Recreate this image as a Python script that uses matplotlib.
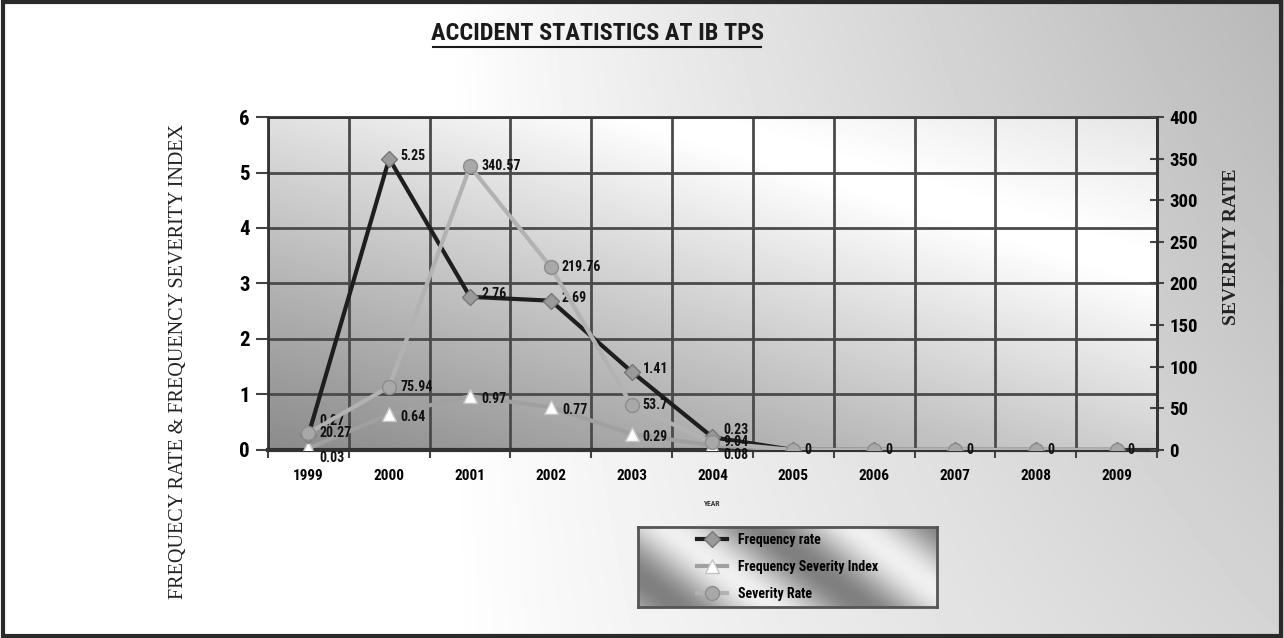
"""Accident statistics at IB TPS: frequency rate, frequency severity index and severity rate"""
import numpy as np
import matplotlib
matplotlib.use("Agg")
import matplotlib.pyplot as plt
from matplotlib.lines import Line2D
from matplotlib.patches import Rectangle

years = ["1999", "2000", "2001", "2002", "2003", "2004",
         "2005", "2006", "2007", "2008", "2009"]
frequency_rate = [0.27, 5.25, 2.76, 2.69, 1.41, 0.23, 0, 0, 0, 0, 0]
freq_severity_index = [0.03, 0.64, 0.97, 0.77, 0.29, 0.08, 0, 0, 0, 0, 0]
severity_rate = [20.27, 75.94, 340.57, 219.76, 53.70, 9.04, 0, 0, 0, 0, 0]

NARROW = ["Roboto Condensed", "DejaVu Sans"]
SERIF = ["Liberation Serif", "DejaVu Serif"]
narrow = dict(fontfamily=NARROW, fontstretch="condensed", fontweight="bold")

fig = plt.figure(figsize=(12.84, 6.38), dpi=100)

# background: white on the left fading to grey on the right
bg = fig.add_axes([0, 0, 1, 1], zorder=-10)
gx, gy = np.meshgrid(np.linspace(0, 1, 400), np.linspace(0, 1, 200))
shade = 1 - 0.28 * np.clip((gx - 0.35) / 0.65, 0, 1) ** 0.9 * (0.6 + 0.4 * (1 - gy))
bg.imshow(shade, cmap="gray", vmin=0, vmax=1, extent=[0, 1, 0, 1],
          aspect="auto", interpolation="bilinear")
bg.set_axis_off()
bg.add_patch(Rectangle((0.002, 0.003), 0.996, 0.994, transform=bg.transAxes,
                       fill=False, edgecolor="#2a2a2a", linewidth=3))

ax = fig.add_axes([0.2087, 0.2947, 0.6924, 0.5219])
x = np.arange(len(years))

# plot area gradient: dark lower-left corner, white towards the upper middle
px, py = np.meshgrid(np.linspace(0, 1, 300), np.linspace(0, 1, 150))
s = 0.5 * px + 0.6 * py
plot_shade = 0.55 + 0.45 * np.clip(s / 0.8, 0, 1) ** 1.1 - 0.4 * np.clip(s - 0.85, 0, None)
ax.imshow(plot_shade, cmap="gray", vmin=0, vmax=1,
          extent=[-0.5, len(years) - 0.5, 0, 6], origin="lower",
          aspect="auto", interpolation="bilinear", zorder=0)

ax.set_xlim(-0.5, len(years) - 0.5)
ax.set_ylim(0, 6)
ax.set_yticks(range(0, 7))
ax.set_xticks(x)
ax.set_xticks(np.arange(-0.5, len(years)), minor=True)
ax.set_xticklabels(years, fontsize=11, **narrow)
ax.set_yticklabels([str(v) for v in range(0, 7)], fontsize=15, **narrow)
ax.tick_params(axis="x", which="major", length=0, pad=14)
ax.tick_params(axis="x", which="minor", length=6, width=1.5, color="#444")
ax.tick_params(axis="y", length=9, width=1.5, color="#444", pad=4)
ax.grid(True, axis="y", color="#4a4a4a", linewidth=2, zorder=1)
ax.grid(True, axis="x", which="minor", color="#4a4a4a", linewidth=2, zorder=1)
ax.set_axisbelow(True)
for sp in ax.spines.values():
    sp.set_color("#333")
    sp.set_linewidth(2)
ax.spines["bottom"].set_linewidth(3)

ax2 = ax.twinx()
ax2.set_ylim(0, 400)
ax2.set_yticks(range(0, 401, 50))
ax2.set_yticklabels([str(v) for v in range(0, 401, 50)], fontsize=13.5, **narrow)
ax2.tick_params(axis="y", direction="inout", length=10, width=1.5,
                color="#444", pad=4)
ax2.patch.set_visible(False)
for sp in ax2.spines.values():
    sp.set_visible(False)
ax2.spines["right"].set_visible(True)
ax2.spines["right"].set_color("#333")
ax2.spines["right"].set_linewidth(2)

fr_line, = ax.plot(x, frequency_rate, color="#1e1e1e", linewidth=3,
                   marker="D", markersize=8, markerfacecolor="#9a9a9a",
                   markeredgecolor="#777", zorder=4)
fsi_line, = ax.plot(x, freq_severity_index, color="#a0a0a0", linewidth=3,
                    marker="^", markersize=10, markerfacecolor="white",
                    markeredgecolor="#c4c4c4", zorder=3)
sr_line, = ax2.plot(x, severity_rate, color="#b2b2b2", linewidth=3,
                    marker="o", markersize=10, markerfacecolor="#a8a8a8",
                    markeredgecolor="#8c8c8c", zorder=3)

# data labels to the right of each point; the zero labels of the two
# left-axis series sit under the severity "0" so only that one is drawn
label_style = dict(fontsize=10, color="#111", va="center", ha="left", **narrow)
fr_dy = [10, 2, 2, 2, 2, 5, 0, 0, 0, 0, 0]
fsi_dy = [-7, -2, -2, -2, -2, -7, 0, 0, 0, 0, 0]
for i, v in enumerate(frequency_rate):
    if v:
        ax.annotate(f"{v:g}", (x[i], v), xytext=(8, fr_dy[i]),
                    textcoords="offset points", zorder=6, **label_style)
for i, v in enumerate(freq_severity_index):
    if v:
        ax.annotate(f"{v:g}", (x[i], v), xytext=(8, fsi_dy[i]),
                    textcoords="offset points", zorder=6, **label_style)
for i, v in enumerate(severity_rate):
    ax2.annotate(f"{v:g}", (x[i], v), xytext=(8, 0),
                 textcoords="offset points", zorder=6, **label_style)

ax.set_xlabel("YEAR", fontsize=5.5, labelpad=12, color="#333", **narrow)
fig.text(0.139, 0.433, "FREQUECY RATE & FREQUENCY SEVERITY INDEX",
         rotation=90, ha="center", va="center", fontfamily=SERIF,
         fontsize=14.5, color="#222")
fig.text(0.959, 0.613, "SEVERITY RATE", rotation=90, ha="center",
         va="center", fontfamily=SERIF, fontweight="bold", fontsize=14,
         color="#222")

# title with underline
fig.text(0.465, 0.948, "ACCIDENT STATISTICS AT IB TPS", ha="center",
         va="center", fontsize=17.5, color="#1a1a1a", fontfamily=NARROW,
         fontstretch="condensed", fontweight="heavy")
fig.add_artist(Line2D([0.337, 0.593], [0.927, 0.927], color="#1a1a1a",
                      linewidth=1.5, transform=fig.transFigure))

# legend on a brushed-metal panel
lax = fig.add_axes([0.4969, 0.0486, 0.2329, 0.1254])
lx, ly = np.meshgrid(np.linspace(0, 1, 300), np.linspace(0, 1, 80))
metal = 0.72 + 0.22 * np.sin(2 * np.pi * (1.6 * lx - 0.55 * ly) + 0.6)
lax.imshow(metal, cmap="gray", vmin=0, vmax=1, extent=[0, 1, 0, 1],
           aspect="auto", interpolation="bilinear")
lax.set_xticks([])
lax.set_yticks([])
for sp in lax.spines.values():
    sp.set_color("#555")
    sp.set_linewidth(2)
lax.legend([fr_line, fsi_line, sr_line],
           ["Frequency rate", "Frequency Severity Index", "Severity Rate"],
           loc="center", frameon=False, handlelength=2.2,
           labelspacing=0.95, borderaxespad=0,
           prop=dict(family=NARROW, stretch="condensed", weight="bold", size=10))

fig.savefig("out.png", dpi=100)
